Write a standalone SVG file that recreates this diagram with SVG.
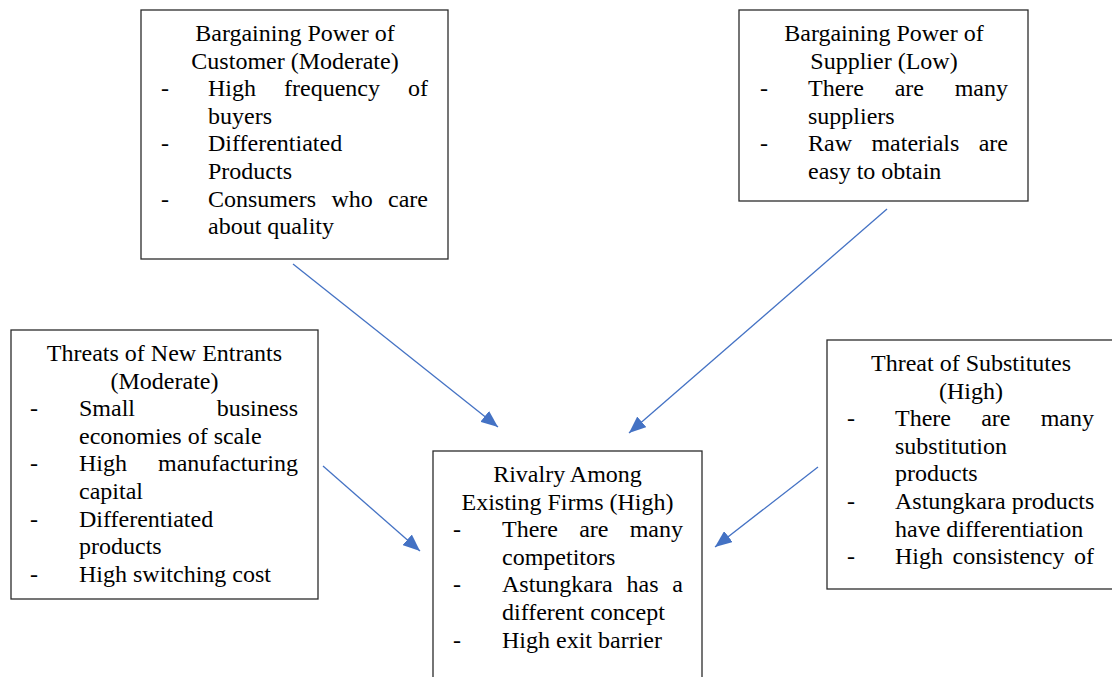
<svg xmlns="http://www.w3.org/2000/svg" width="1112" height="677" viewBox="0 0 1112 677">
  <style>
    .box { fill: #ffffff; stroke: #2b2b2b; stroke-width: 1.3; }
    text { font-family: 'Liberation Serif', 'Times New Roman', Times, 'DejaVu Serif', serif; font-size: 24px; fill: #000000; }
    .c { text-anchor: middle; }
    .conn { stroke: #4472C4; stroke-width: 1.3; fill: none; marker-end: url(#arrow); }
  </style>
  <defs>
    <marker id="arrow" markerUnits="userSpaceOnUse" markerWidth="17" markerHeight="14" refX="17" refY="7" orient="auto">
      <path d="M0,0 L17,7 L0,14 Z" fill="#4472C4"/>
    </marker>
  </defs>
  <rect width="1112" height="677" fill="#ffffff"/>

  <g font-family="Liberation Serif, Times New Roman, serif" font-size="24">

  <!-- Bargaining power of customers -->
  <g id="customer">
    <rect class="box" x="141" y="10" width="307" height="249"/>
    <text class="c" x="295" y="41">Bargaining Power of</text>
    <text class="c" x="295" y="68.6">Customer (Moderate)</text>
    <text x="161" y="96.2">-</text>
    <text y="96.2"><tspan x="208">High</tspan><tspan x="284">frequency</tspan><tspan x="408">of</tspan></text>
    <text x="208" y="123.8">buyers</text>
    <text x="161" y="151.4">-</text>
    <text x="208" y="151.4">Differentiated</text>
    <text x="208" y="179">Products</text>
    <text x="161" y="206.6">-</text>
    <text y="206.6"><tspan x="208">Consumers</tspan><tspan x="331.4">who</tspan><tspan x="388">care</tspan></text>
    <text x="208" y="234.2">about quality</text>
  </g>

  <!-- Bargaining power of suppliers -->
  <g id="supplier">
    <rect class="box" x="739" y="10" width="289" height="191"/>
    <text class="c" x="884" y="41">Bargaining Power of</text>
    <text class="c" x="884" y="68.6">Supplier (Low)</text>
    <text x="760" y="96.2">-</text>
    <text y="96.2"><tspan x="808">There</tspan><tspan x="894.7">are</tspan><tspan x="954.7">many</tspan></text>
    <text x="808" y="123.8">suppliers</text>
    <text x="760" y="151.4">-</text>
    <text y="151.4"><tspan x="808">Raw</tspan><tspan x="871.4">materials</tspan><tspan x="978.7">are</tspan></text>
    <text x="808" y="179">easy to obtain</text>
  </g>

  <!-- Threat of new entrants -->
  <g id="new-entrants">
    <rect class="box" x="11" y="330" width="307" height="269"/>
    <text class="c" x="164.5" y="361">Threats of New Entrants</text>
    <text class="c" x="164.5" y="388.6">(Moderate)</text>
    <text x="30" y="416.2">-</text>
    <text x="79" y="416.2">Small</text>
    <text x="298" y="416.2" text-anchor="end">business</text>
    <text x="79" y="443.8">economies of scale</text>
    <text x="30" y="471.4">-</text>
    <text x="79" y="471.4">High</text>
    <text x="298" y="471.4" text-anchor="end">manufacturing</text>
    <text x="79" y="499">capital</text>
    <text x="30" y="526.6">-</text>
    <text x="79" y="526.6">Differentiated</text>
    <text x="79" y="554.2">products</text>
    <text x="30" y="581.8">-</text>
    <text x="79" y="581.8">High switching cost</text>
  </g>

  <!-- Rivalry among existing firms -->
  <g id="rivalry">
    <rect class="box" x="433" y="451" width="269" height="240"/>
    <text class="c" x="567.5" y="482">Rivalry Among</text>
    <text class="c" x="567.5" y="509.6">Existing Firms (High)</text>
    <text x="453" y="537.2">-</text>
    <text y="537.2"><tspan x="502">There</tspan><tspan x="579.2">are</tspan><tspan x="629.7">many</tspan></text>
    <text x="502" y="564.8">competitors</text>
    <text x="453" y="592.4">-</text>
    <text y="592.4"><tspan x="502">Astungkara</tspan><tspan x="626.5">has</tspan><tspan x="672.3">a</tspan></text>
    <text x="502" y="620">different concept</text>
    <text x="453" y="647.6">-</text>
    <text x="502" y="647.6">High exit barrier</text>
  </g>

  <!-- Threat of substitutes -->
  <g id="substitutes">
    <rect class="box" x="827" y="340" width="290" height="249"/>
    <text class="c" x="971" y="371">Threat of Substitutes</text>
    <text class="c" x="971" y="398.6">(High)</text>
    <text x="847" y="426.2">-</text>
    <text y="426.2"><tspan x="895">There</tspan><tspan x="981.2">are</tspan><tspan x="1040.7">many</tspan></text>
    <text x="895" y="453.8">substitution</text>
    <text x="895" y="481.4">products</text>
    <text x="847" y="509">-</text>
    <text x="895" y="509">Astungkara products</text>
    <text x="895" y="536.6">have differentiation</text>
    <text x="847" y="564.2">-</text>
    <text y="564.2"><tspan x="895">High</tspan><tspan x="952.5">consistency</tspan><tspan x="1074">of</tspan></text>
  </g>

  </g>

  <!-- Forces pointing at the rivalry box -->
  <g id="connectors">
    <line class="conn" x1="293" y1="264" x2="498" y2="427"/>
    <line class="conn" x1="887" y1="209" x2="629" y2="433"/>
    <line class="conn" x1="323" y1="466" x2="420" y2="551"/>
    <line class="conn" x1="818" y1="467" x2="715" y2="547"/>
  </g>
</svg>
